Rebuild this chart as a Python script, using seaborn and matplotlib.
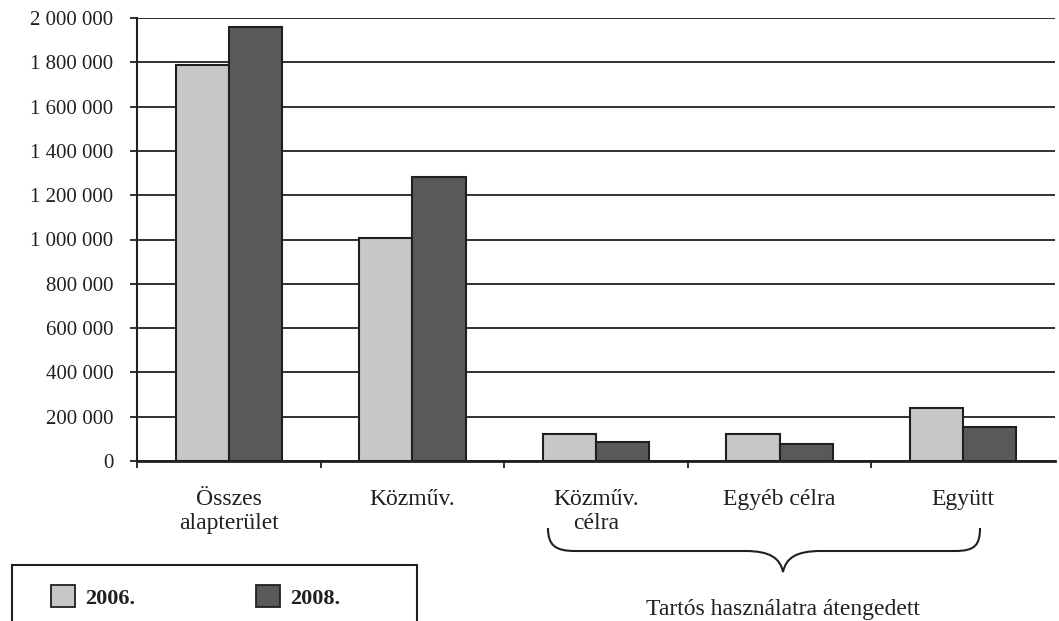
import pandas as pd
import seaborn as sns
from matplotlib import pyplot as plt
from matplotlib.patches import Rectangle, PathPatch
from matplotlib.path import Path
from matplotlib.ticker import FuncFormatter, FixedLocator

categories = ['Összes\nalapterület', 'Közműv.', 'Közműv.\ncélra', 'Egyéb célra', 'Együtt']
years = ['2006.', '2008.']
values_2006 = [1790000, 1005000, 120000, 120000, 240000]
values_2008 = [1960000, 1280000, 84000, 75000, 155000]
colors = ['#c6c7c9', '#58595b']
group_label = 'Tartós használatra átengedett'


def space_thousands(v, pos):
    return f'{v:,.0f}'.replace(',', ' ')


if __name__ == '__main__':
    df = pd.DataFrame({
        'cat': categories * 2,
        'year': [years[0]] * len(categories) + [years[1]] * len(categories),
        'val': values_2006 + values_2008,
    })

    sns.set_style('white')
    plt.rcParams['font.family'] = ['Liberation Serif', 'DejaVu Serif']
    W, H = 1059, 621
    fig = plt.figure(figsize=(W / 100, H / 100), dpi=100)
    ax = fig.add_axes([137 / W, 1 - 461 / H, (1055 - 137) / W, (461 - 18) / H])

    sns.barplot(data=df, x='cat', y='val', hue='year', palette=colors, order=categories,
                width=0.58, saturation=1, edgecolor='#231f20', linewidth=1.5, ax=ax, legend=False)

    ax.set_ylim(0, 2000000)
    ax.set_xlim(-0.5, 4.5)
    ax.set_yticks(range(0, 2000001, 200000))
    ax.yaxis.set_major_formatter(FuncFormatter(space_thousands))
    ax.grid(axis='y', color='#231f20', linewidth=1.3)
    ax.set_axisbelow(True)
    ax.set_xlabel('')
    ax.set_ylabel('')

    for side in ['top', 'right']:
        ax.spines[side].set_visible(False)
    ax.spines['left'].set_color('#231f20')
    ax.spines['left'].set_linewidth(1.5)
    ax.spines['bottom'].set_color('#231f20')
    ax.spines['bottom'].set_linewidth(2)

    ax.tick_params(axis='y', which='major', length=5, width=1.3, color='#231f20',
                   pad=12, labelsize=15, left=True, labelcolor='#231f20')
    ax.tick_params(axis='x', which='major', length=0, pad=20, labelsize=17, labelcolor='#231f20')
    ax.xaxis.set_minor_locator(FixedLocator([-0.5, 0.5, 1.5, 2.5, 3.5]))
    ax.tick_params(axis='x', which='minor', length=5, width=1.3, color='#231f20', bottom=True)
    for lab in ax.get_xticklabels():
        lab.set_linespacing(1.2)

    # brace under the last three groups
    def px(x, y):
        return (x / W, 1 - y / H)

    verts = [px(548, 528),
             px(548, 545), px(555, 551), px(575, 551),
             px(745, 551),
             px(770, 551), px(780, 558), px(783, 572),
             px(786, 558), px(796, 551), px(821, 551),
             px(955, 551),
             px(975, 551), px(980, 545), px(980, 528)]
    codes = [Path.MOVETO,
             Path.CURVE4, Path.CURVE4, Path.CURVE4,
             Path.LINETO,
             Path.CURVE4, Path.CURVE4, Path.CURVE4,
             Path.CURVE4, Path.CURVE4, Path.CURVE4,
             Path.LINETO,
             Path.CURVE4, Path.CURVE4, Path.CURVE4]
    brace = PathPatch(Path(verts, codes), transform=fig.transFigure, fill=False,
                      edgecolor='#231f20', linewidth=1.5)
    fig.patches.append(brace)
    fig.text(783 / W, 1 - 609 / H, group_label, ha='center', va='center', fontsize=17,
             color='#231f20')

    # legend box, cut off at the bottom
    frame = Rectangle(px(12, 640), (417 - 12) / W, (640 - 565) / H, transform=fig.transFigure,
                      fill=False, edgecolor='#231f20', linewidth=1.5)
    fig.patches.append(frame)
    handles = [Rectangle((0, 0), 1, 1, facecolor=c, edgecolor='#231f20', linewidth=1.3) for c in colors]
    leg = fig.legend(handles, years, loc='center left', bbox_to_anchor=px(31, 597), ncol=2,
                     frameon=False, prop={'weight': 'bold', 'size': 16},
                     handlelength=1.1, handleheight=1.1, handletextpad=0.45, columnspacing=5.4)
    for t in leg.get_texts():
        t.set_color('#231f20')

    plt.savefig('out.png', dpi=100)
